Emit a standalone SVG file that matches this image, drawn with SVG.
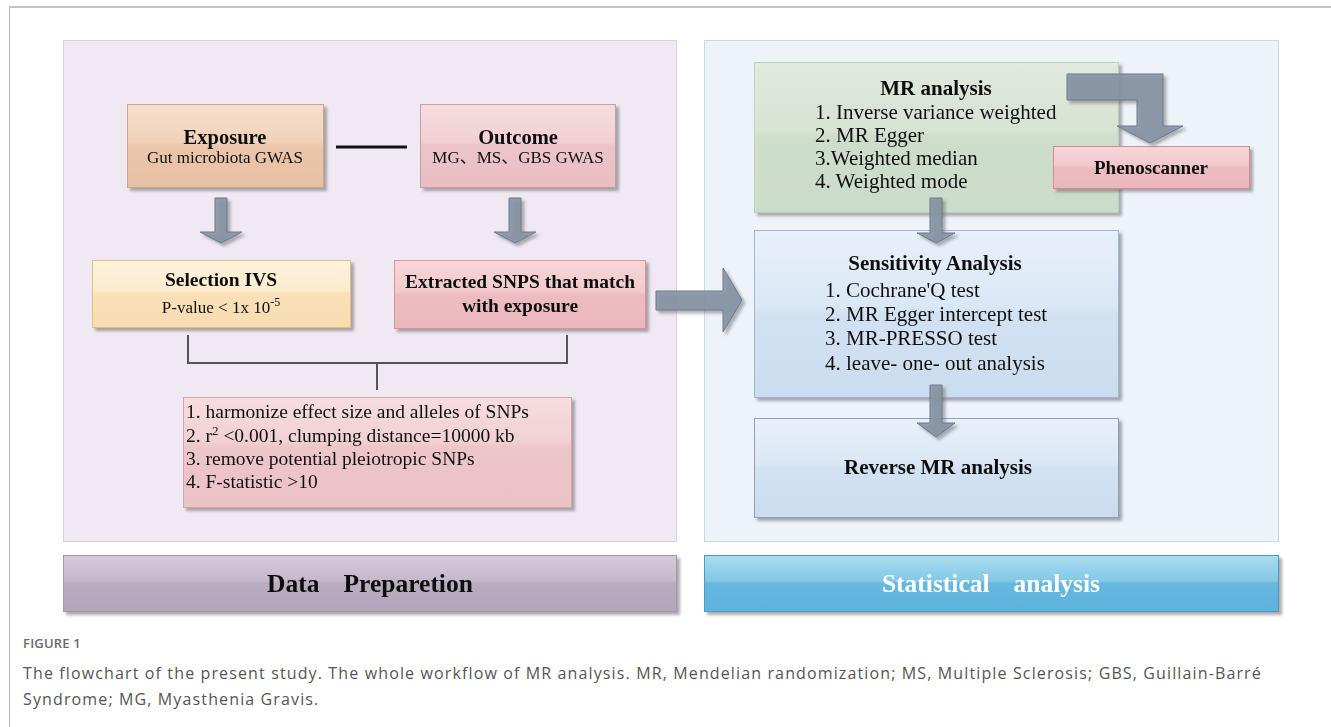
<svg xmlns="http://www.w3.org/2000/svg" width="1331" height="727" viewBox="0 0 1331 727">
<defs>
<style>
.t{font-family:"Liberation Serif","Times New Roman",serif;fill:#111;}
.b{font-weight:bold;}
.c{text-anchor:middle;}
.cap{font-family:"Open Sans","Noto Sans",sans-serif;fill:#555;}
.arr{fill:#8593a3;fill-opacity:0.88;stroke:#6d7b8b;stroke-width:1;filter:url(#sh);}
.box{filter:url(#sh);}
</style>
<filter id="sh" x="-10%" y="-10%" width="125%" height="130%">
<feDropShadow dx="3" dy="3" stdDeviation="1.5" flood-color="#666" flood-opacity="0.55"/>
</filter>
<linearGradient id="gExp" x1="0" y1="0" x2="0" y2="1">
<stop offset="0" stop-color="#f6dfcc"/><stop offset="0.45" stop-color="#f0d2bb"/><stop offset="0.5" stop-color="#ebc6ab"/><stop offset="1" stop-color="#e8c0a4"/>
</linearGradient>
<linearGradient id="gOut" x1="0" y1="0" x2="0" y2="1">
<stop offset="0" stop-color="#f6dde0"/><stop offset="0.45" stop-color="#f1d0d4"/><stop offset="0.5" stop-color="#ecc4c9"/><stop offset="1" stop-color="#e9bec3"/>
</linearGradient>
<linearGradient id="gSel" x1="0" y1="0" x2="0" y2="1">
<stop offset="0" stop-color="#fef3df"/><stop offset="0.45" stop-color="#fcebcd"/><stop offset="0.5" stop-color="#f9e0b8"/><stop offset="1" stop-color="#f7dcb1"/>
</linearGradient>
<linearGradient id="gPink" x1="0" y1="0" x2="0" y2="1">
<stop offset="0" stop-color="#f6d6d9"/><stop offset="0.45" stop-color="#f2c9cd"/><stop offset="0.5" stop-color="#edbcc1"/><stop offset="1" stop-color="#eab7bc"/>
</linearGradient>
<linearGradient id="gBot" x1="0" y1="0" x2="0" y2="1">
<stop offset="0" stop-color="#f6dde0"/><stop offset="0.4" stop-color="#f1d0d4"/><stop offset="0.45" stop-color="#edc6ca"/><stop offset="1" stop-color="#ebc2c6"/>
</linearGradient>
<linearGradient id="gGreen" x1="0" y1="0" x2="0" y2="1">
<stop offset="0" stop-color="#e3ece0"/><stop offset="0.45" stop-color="#d9e6d5"/><stop offset="0.5" stop-color="#d0e0cc"/><stop offset="1" stop-color="#cddecb"/>
</linearGradient>
<linearGradient id="gBlue" x1="0" y1="0" x2="0" y2="1">
<stop offset="0" stop-color="#e8f0fa"/><stop offset="0.45" stop-color="#dbe7f5"/><stop offset="0.5" stop-color="#d2e1f2"/><stop offset="1" stop-color="#ccdcf0"/>
</linearGradient>
<linearGradient id="gBarP" x1="0" y1="0" x2="0" y2="1">
<stop offset="0" stop-color="#d5cad9"/><stop offset="0.45" stop-color="#c5b8cb"/><stop offset="0.5" stop-color="#b9abc0"/><stop offset="1" stop-color="#b3a5bb"/>
</linearGradient>
<linearGradient id="gBarB" x1="0" y1="0" x2="0" y2="1">
<stop offset="0" stop-color="#a8dcf0"/><stop offset="0.45" stop-color="#84c8e6"/><stop offset="0.5" stop-color="#66b8de"/><stop offset="1" stop-color="#5fb2dc"/>
</linearGradient>
</defs>

<rect width="1331" height="727" fill="#ffffff"/>
<line x1="9" y1="7" x2="1331" y2="7" stroke="#c4c4c4" stroke-width="2"/>
<line x1="9.5" y1="7" x2="9.5" y2="727" stroke="#b4b4b4" stroke-width="1"/>

<g id="panel-left">
<rect x="63.5" y="40.5" width="613" height="501" fill="#f0e9f3" stroke="#dccfe2" stroke-width="1"/>
</g>
<g id="panel-right">
<rect x="704.5" y="40.5" width="574" height="501" fill="#eef3fa" stroke="#cad9ea" stroke-width="1"/>
</g>

<g id="bar-data" class="box">
<rect x="63.5" y="555.5" width="613" height="56" fill="url(#gBarP)" stroke="#a696ad" stroke-width="1"/>
<text class="t b c" x="370" y="592" font-size="25.5" fill="#2b2b2b">Data<tspan dx="24">Preparetion</tspan></text>
</g>
<g id="bar-stat" class="box">
<rect x="704.5" y="555.5" width="574" height="56" fill="url(#gBarB)" stroke="#4a9cc6" stroke-width="1"/>
<text class="t b c" x="991" y="592" font-size="25.5" style="fill:#ffffff">Statistical<tspan dx="24">analysis</tspan></text>
</g>

<g id="exposure" class="box">
<rect x="127.5" y="104.5" width="196" height="83" fill="url(#gExp)" stroke="#c9a68e" stroke-width="1"/>
<text class="t b c" x="225" y="144" font-size="20.5">Exposure</text>
<text class="t c" x="225" y="163" font-size="17">Gut microbiota GWAS</text>
</g>

<g id="outcome" class="box">
<rect x="420.5" y="104.5" width="195" height="83" fill="url(#gOut)" stroke="#c99da3" stroke-width="1"/>
<text class="t b c" x="518" y="144" font-size="20.5">Outcome</text>
<text class="t c" x="518" y="163" font-size="17" style="font-family:'Liberation Serif','Noto Sans CJK SC',serif">MG、MS、GBS GWAS</text>
</g>

<g id="selection" class="box">
<rect x="92.5" y="260.5" width="258" height="67" fill="url(#gSel)" stroke="#e6c07a" stroke-width="1"/>
<text class="t b c" x="221" y="286" font-size="19.5">Selection IVS</text>
<text class="t c" x="221" y="313" font-size="17">P-value &lt; 1x 10<tspan dy="-7" font-size="12">-5</tspan></text>
</g>

<g id="extracted" class="box">
<rect x="394.5" y="260.5" width="251" height="68" fill="url(#gPink)" stroke="#d8949b" stroke-width="1"/>
<text class="t b c" x="520" y="288" font-size="19.5">Extracted SNPS that match</text>
<text class="t b c" x="520" y="312" font-size="19.5">with exposure</text>
</g>

<g id="harmonize" class="box">
<rect x="183.5" y="397.5" width="388" height="110" fill="url(#gBot)" stroke="#d4a2a8" stroke-width="1"/>
<text class="t" x="186" y="418" font-size="19.5">1. harmonize effect size and alleles of SNPs</text>
<text class="t" x="186" y="442" font-size="19.5">2. r<tspan dy="-7" font-size="13">2</tspan><tspan dy="7"> &lt;0.001, clumping distance=10000 kb</tspan></text>
<text class="t" x="186" y="465" font-size="19.5">3. remove potential pleiotropic SNPs</text>
<text class="t" x="186" y="488" font-size="19.5">4. F-statistic &gt;10</text>
</g>

<g id="mr-analysis" class="box">
<rect x="754.5" y="62.5" width="364" height="150" fill="url(#gGreen)" fill-opacity="0.92" stroke="#bcd2b8" stroke-width="1"/>
<text class="t b c" x="936" y="95" font-size="21">MR analysis</text>
<text class="t" x="815" y="119" font-size="21">1. Inverse variance weighted</text>
<text class="t" x="815" y="142" font-size="21">2. MR Egger</text>
<text class="t" x="815" y="165" font-size="21">3.Weighted median</text>
<text class="t" x="815" y="188" font-size="21">4. Weighted mode</text>
</g>

<g id="phenoscanner" class="box">
<rect x="1053.5" y="146.5" width="196" height="42" fill="url(#gPink)" stroke="#d88a91" stroke-width="1"/>
<text class="t b c" x="1151" y="174" font-size="19">Phenoscanner</text>
</g>

<g id="sensitivity" class="box">
<rect x="754.5" y="230.5" width="364" height="167" fill="url(#gBlue)" stroke="#9fb7d6" stroke-width="1"/>
<text class="t b c" x="935" y="270" font-size="21">Sensitivity Analysis</text>
<text class="t" x="825" y="297" font-size="21">1. Cochrane'Q test</text>
<text class="t" x="825" y="321" font-size="21">2. MR Egger intercept test</text>
<text class="t" x="825" y="345" font-size="21">3. MR-PRESSO test</text>
<text class="t" x="825" y="370" font-size="21">4. leave- one- out analysis</text>
</g>

<g id="reverse-mr" class="box">
<rect x="754.5" y="418.5" width="364" height="99" fill="url(#gBlue)" stroke="#8f9fb6" stroke-width="1"/>
<text class="t b c" x="938" y="474" font-size="21">Reverse MR analysis</text>
</g>

<g id="connectors">
<line x1="336" y1="147" x2="407" y2="147" stroke="#111" stroke-width="3"/>
<polygon class="arr" points="215,198 227,198 227,232 242,232 221,243 200,232 215,232"/>
<polygon class="arr" points="509,198 521,198 521,232 536,232 515,243 494,232 509,232"/>
<polyline points="188,335 188,363 567,363 567,335" fill="none" stroke="#555" stroke-width="2"/>
<line x1="377" y1="363" x2="377" y2="390" stroke="#555" stroke-width="2"/>
<polygon class="arr" points="656,291 723,291 723,268 742,300 723,332 723,310 656,310"/>
<polygon class="arr" points="1067,74 1163,74 1163,126 1183,126 1150,143 1117,126 1137,126 1137,100 1067,100"/>
<polygon class="arr" points="930,198 942,198 942,233 955,233 936,243 917,233 930,233"/>
<polygon class="arr" points="930,385 942,385 942,423 955,423 936,437 917,423 930,423"/>
</g>

<g id="caption">
<text class="cap" x="23" y="648" font-size="13" font-weight="600" letter-spacing="0.2" style="fill:#6a6a6a">FIGURE 1</text>
<text class="cap" x="23" y="679" font-size="16" letter-spacing="1.13">The flowchart of the present study. The whole workflow of MR analysis. MR, Mendelian randomization; MS, Multiple Sclerosis; GBS, Guillain-Barré</text>
<text class="cap" x="23" y="705" font-size="16" letter-spacing="1.13">Syndrome; MG, Myasthenia Gravis.</text>
</g>
</svg>
